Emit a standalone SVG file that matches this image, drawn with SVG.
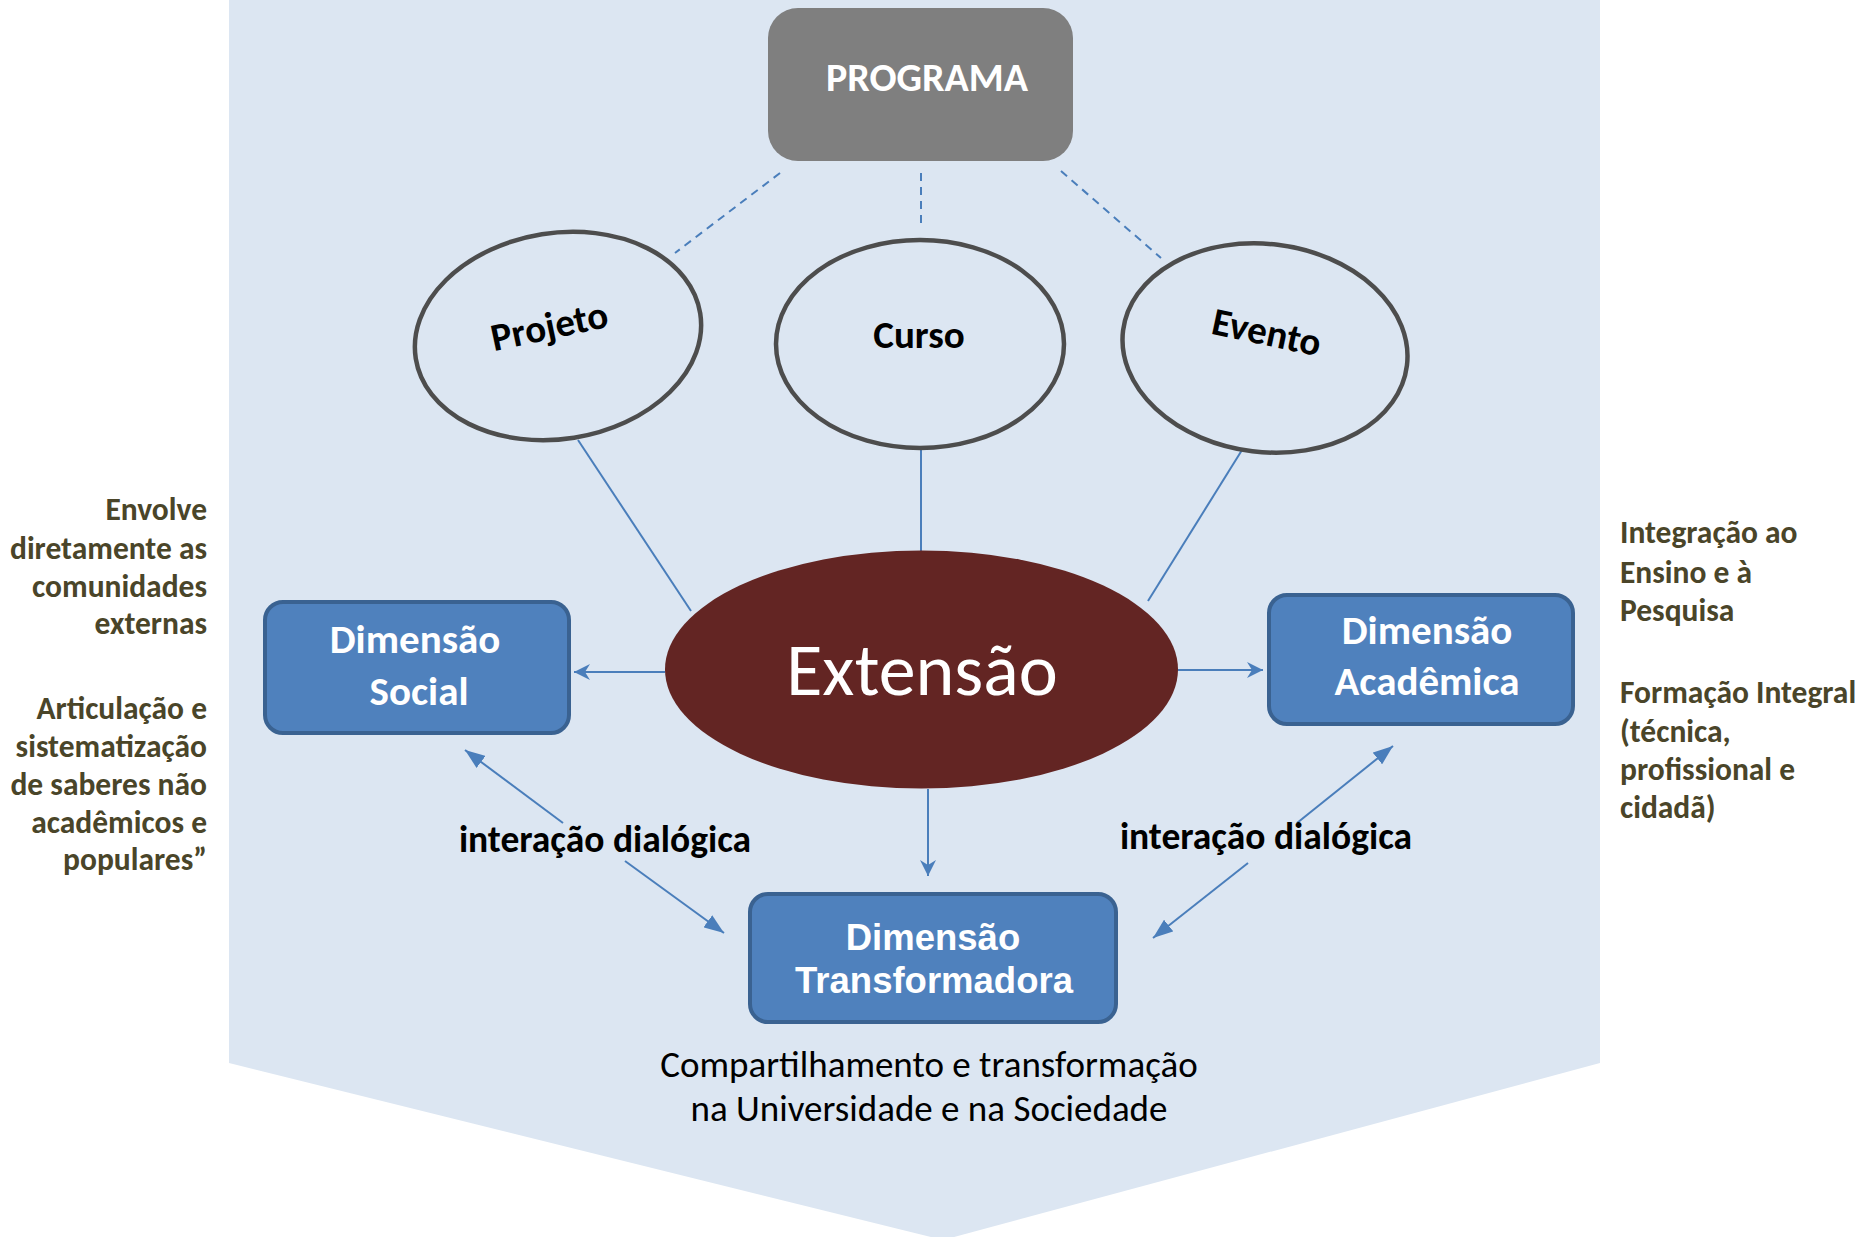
<svg xmlns="http://www.w3.org/2000/svg" width="1868" height="1237" viewBox="0 0 1868 1237">
<defs>
<style>
.bg{fill:#dce6f2}
.cal{font-family:Carlito,Calibri,Lato,"Open Sans",sans-serif}
.bold{font-weight:bold}
.circ{fill:none;stroke:#4d4d4d;stroke-width:4.5}
.box{fill:#4f81bd;stroke:#3a6291;stroke-width:4}
.wt{fill:#ffffff}
.side{fill:#4a4529;font-size:31.5px;font-weight:bold}
.dash{stroke:#4a7ebb;stroke-width:2;stroke-dasharray:8 6;fill:none}
.ln{stroke:#4a7ebb;stroke-width:2;fill:none}
</style>
<marker id="stealth" viewBox="0 0 16 16" refX="16" refY="8" markerWidth="16" markerHeight="16" markerUnits="userSpaceOnUse" orient="auto">
<path d="M0,0 L16,8 L0,16 L5,8 z" fill="#4a7ebb"/>
</marker>
<marker id="tri" viewBox="0 0 20 15" refX="20" refY="7.5" markerWidth="20" markerHeight="15" markerUnits="userSpaceOnUse" orient="auto">
<path d="M0,0 L20,7.5 L0,15 z" fill="#4a7ebb"/>
</marker>
</defs>
<rect x="0" y="0" width="1868" height="1237" fill="#ffffff"/>
<polygon class="bg" points="229,0 1600,0 1600,1063 943,1240 229,1063"/>

<g id="connectors">
<line class="dash" x1="780" y1="173" x2="675" y2="253"/>
<line class="dash" x1="921" y1="173" x2="921" y2="229"/>
<line class="dash" x1="1061" y1="171" x2="1161" y2="258"/>
<line class="ln" x1="578" y1="440" x2="691" y2="611"/>
<line class="ln" x1="921" y1="449" x2="921" y2="552"/>
<line class="ln" x1="1242" y1="450" x2="1148" y2="601"/>
<line class="ln" x1="665" y1="672" x2="574" y2="672" marker-end="url(#stealth)"/>
<line class="ln" x1="1178" y1="670" x2="1263" y2="670" marker-end="url(#stealth)"/>
<line class="ln" x1="928" y1="789" x2="928" y2="876" marker-end="url(#stealth)"/>
<line class="ln" x1="563" y1="823" x2="465" y2="750" marker-end="url(#tri)"/>
<line class="ln" x1="625" y1="861" x2="724" y2="933" marker-end="url(#tri)"/>
<line class="ln" x1="1297" y1="823" x2="1393" y2="746" marker-end="url(#tri)"/>
<line class="ln" x1="1248" y1="863" x2="1153" y2="938" marker-end="url(#tri)"/>
</g>

<g id="programa">
<rect x="768" y="8" width="305" height="153" rx="30" fill="#7f7f7f"/>
<text class="cal bold wt" x="927" y="91" font-size="40" text-anchor="middle">PROGRAMA</text>
</g>

<g id="projeto">
<ellipse class="circ" cx="558" cy="336" rx="144" ry="103" transform="rotate(-9 558 336)"/>
<text class="cal bold" x="0" y="0" font-size="39" text-anchor="middle" transform="translate(552 339) rotate(-12)">Projeto</text>
</g>

<g id="curso">
<ellipse class="circ" cx="920" cy="344" rx="144" ry="104"/>
<text class="cal bold" x="919" y="348" font-size="39" text-anchor="middle">Curso</text>
</g>

<g id="evento">
<ellipse class="circ" cx="1265" cy="348" rx="143" ry="104" transform="rotate(7 1265 348)"/>
<text class="cal bold" x="0" y="0" font-size="39" text-anchor="middle" transform="translate(1264 345) rotate(12)">Evento</text>
</g>

<g id="extensao">
<ellipse cx="921.5" cy="669.5" rx="256.5" ry="119" fill="#632523"/>
<text class="cal wt" x="922" y="695" font-size="74" text-anchor="middle">Extensão</text>
</g>

<g id="dim-social">
<rect class="box" x="265" y="602" width="304" height="131" rx="18"/>
<text class="cal bold wt" font-size="41" text-anchor="middle"><tspan x="415" y="653">Dimensão</tspan><tspan x="419" y="705">Social</tspan></text>
</g>

<g id="dim-academica">
<rect class="box" x="1269" y="595" width="304" height="129" rx="18"/>
<text class="cal bold wt" font-size="41" text-anchor="middle"><tspan x="1427" y="644">Dimensão</tspan><tspan x="1427" y="695">Acadêmica</tspan></text>
</g>

<g id="dim-transformadora">
<rect class="box" x="750" y="894" width="366" height="128" rx="18"/>
<text class="bold wt" font-family="'Liberation Sans',Arial,sans-serif" font-size="36.5" text-anchor="middle"><tspan x="933" y="950">Dimensão</tspan><tspan x="934" y="993">Transformadora</tspan></text>
</g>

<g id="label-left">
<text class="cal bold" x="605" y="852" font-size="37.5" text-anchor="middle">interação dialógica</text>
</g>
<g id="label-right">
<text class="cal bold" x="1266" y="849" font-size="37.5" text-anchor="middle">interação dialógica</text>
</g>

<g id="text-left">
<text class="cal side" text-anchor="end"><tspan x="207" y="520">Envolve</tspan><tspan x="207" y="559">diretamente as</tspan><tspan x="207" y="597">comunidades</tspan><tspan x="207" y="634">externas</tspan><tspan x="207" y="719">Articulação e</tspan><tspan x="207" y="757">sistematização</tspan><tspan x="207" y="795">de saberes não</tspan><tspan x="207" y="833">acadêmicos e</tspan><tspan x="207" y="870">populares”</tspan></text>
</g>

<g id="text-right">
<text class="cal side"><tspan x="1620" y="543">Integração ao</tspan><tspan x="1620" y="583">Ensino e à</tspan><tspan x="1620" y="621">Pesquisa</tspan><tspan x="1620" y="703">Formação Integral</tspan><tspan x="1620" y="742">(técnica,</tspan><tspan x="1620" y="780">profissional e</tspan><tspan x="1620" y="818">cidadã)</tspan></text>
</g>

<g id="text-bottom">
<text class="cal" font-size="37" text-anchor="middle" fill="#000000"><tspan x="929" y="1077">Compartilhamento e transformação</tspan><tspan x="929" y="1121">na Universidade e na Sociedade</tspan></text>
</g>
</svg>
